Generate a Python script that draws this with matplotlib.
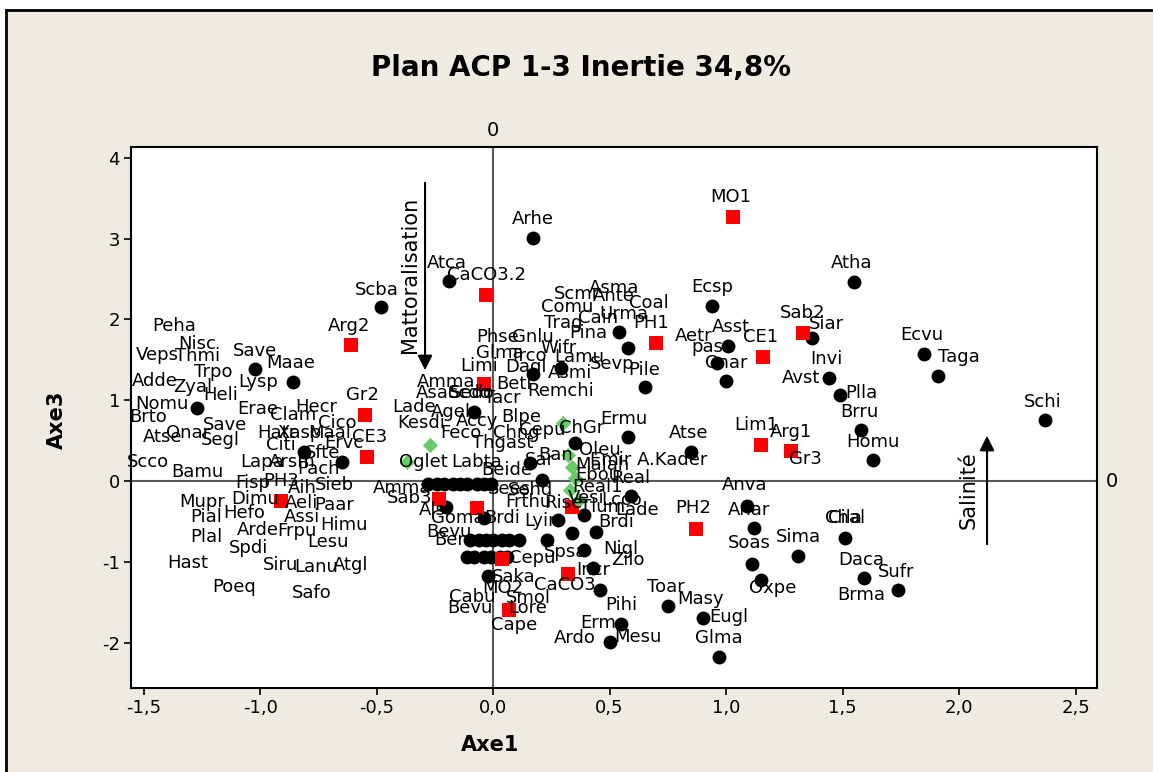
import matplotlib
matplotlib.use('Agg')
import matplotlib.pyplot as plt
from matplotlib.patches import Rectangle
from matplotlib.transforms import blended_transform_factory

# ---------------- data ----------------
title = "Plan ACP 1-3 Inertie 34,8%"
xticks = [-1.5, -1.0, -0.5, 0.0, 0.5, 1.0, 1.5, 2.0, 2.5]
xtick_labels = ["-1,5", "-1,0", "-0,5", "0,0", "0,5", "1,0", "1,5", "2,0", "2,5"]
yticks = [-2, -1, 0, 1, 2, 3, 4]
ytick_labels = ["-2", "-1", "0", "1", "2", "3", "4"]

# species points (black circles)
dot_x = [0.17, -0.19, -0.48, 1.55, 0.94, 1.01, 0.96, 1.00, 1.37, 1.44, 1.49, 1.85, 1.91, 2.37,
         1.58, 1.63, 0.85, 0.58, 0.35, 0.16, 0.21, 0.59, 0.54, 0.58, 0.65, 0.17, 0.29, -0.08,
         -0.20, -0.04, 0.28, -0.02, 0.23, 0.39, 0.43, 0.46, 0.55, 0.50, 0.75, 0.90, 0.97, 0.39,
         0.34, 0.44, 1.09, 1.12, 1.11, 1.15, 1.31, 1.51, 1.59, 1.74, -1.02, -0.86, -1.27, -0.81,
         -0.65,
         -0.28, -0.24, -0.21, -0.17, -0.14, -0.11, -0.07, -0.04, -0.01,
         -0.10, -0.06, -0.03, 0.00, 0.04, 0.07, 0.11,
         -0.11, -0.08, -0.04, -0.01, 0.03, 0.06]
dot_y = [3.01, 2.48, 2.15, 2.46, 2.17, 1.67, 1.46, 1.24, 1.77, 1.27, 1.06, 1.57, 1.30, 0.75,
         0.63, 0.26, 0.36, 0.54, 0.47, 0.22, 0.01, -0.19, 1.84, 1.65, 1.16, 1.32, 1.40, 0.85,
         -0.32, -0.46, -0.48, -1.18, -0.73, -0.85, -1.08, -1.35, -1.77, -1.99, -1.55, -1.70, -2.18,
         -0.42, -0.64, -0.63, -0.31, -0.58, -1.03, -1.23, -0.93, -0.71, -1.20, -1.35, 1.39, 1.23,
         0.90, 0.36, 0.24,
         -0.04, -0.04, -0.04, -0.04, -0.04, -0.04, -0.04, -0.04, -0.04,
         -0.73, -0.73, -0.73, -0.73, -0.73, -0.73, -0.73,
         -0.94, -0.94, -0.94, -0.94, -0.94, -0.94]

# environmental variables (red squares)
sq_x = [1.03, -0.03, -0.61, 0.70, 1.33, 1.16, -0.55, -0.54, -0.04, 1.15, 1.28, 0.87, -0.91,
        -0.23, -0.07, 0.04, 0.32, 0.07, 0.34]
sq_y = [3.27, 2.30, 1.68, 1.71, 1.83, 1.53, 0.82, 0.30, 1.20, 0.45, 0.37, -0.59, -0.25,
        -0.22, -0.33, -0.97, -1.15, -1.60, -0.32]

# stations (green diamonds)
dia_x = [-0.27, -0.37, 0.30, 0.32, 0.34, 0.35, 0.33, 0.37]
dia_y = [0.45, 0.24, 0.72, 0.32, 0.17, 0.04, -0.11, -0.24]

# labels, left part
left_text = ["Scba", "Arg2", "Peha", "Nisc", "Veps", "Thmi", "Save", "Maae", "Trpo", "Adde",
             "Lysp", "Zyal", "Heli", "Nomu", "Gr2", "Brto", "Erae", "Hecr", "Clam", "Cico",
             "Onar", "Save", "Segl", "Atse", "Hatr", "Xasp", "Maal", "CE3", "Citi", "Ervc",
             "Sfte", "Scco", "Lapa", "Arsm", "Pach", "Bamu", "Fisp", "PH3", "Aih", "Sieb",
             "Mupr", "Dimu", "Aeli", "Paar", "Pial", "Hefo", "Assi", "Himu", "Arde", "Frpu",
             "Plal", "Lesu", "Spdi", "Hast", "Siru", "Lanu", "Atgl", "Poeq", "Safo"]
left_x = [-0.50, -0.62, -1.37, -1.27, -1.44, -1.27, -1.02, -0.87, -1.20, -1.45,
          -1.01, -1.29, -1.17, -1.42, -0.56, -1.48, -1.01, -0.76, -0.86, -0.67,
          -1.31, -1.15, -1.17, -1.42, -0.93, -0.83, -0.70, -0.53, -0.91, -0.64,
          -0.73, -1.48, -0.99, -0.86, -0.75, -1.27, -1.03, -0.91, -0.82, -0.68,
          -1.25, -1.02, -0.82, -0.68, -1.23, -1.07, -0.82, -0.64, -1.01, -0.84,
          -1.23, -0.71, -1.05, -1.31, -0.91, -0.76, -0.61, -1.11, -0.78]
left_y = [2.36, 1.92, 1.92, 1.70, 1.56, 1.55, 1.61, 1.46, 1.35, 1.24,
          1.23, 1.16, 1.06, 0.95, 1.06, 0.79, 0.89, 0.92, 0.82, 0.72,
          0.59, 0.69, 0.51, 0.54, 0.59, 0.59, 0.59, 0.54, 0.45, 0.47,
          0.35, 0.24, 0.24, 0.24, 0.15, 0.11, -0.02, 0.00, -0.09, -0.05,
          -0.26, -0.22, -0.27, -0.30, -0.45, -0.40, -0.45, -0.54, -0.61, -0.62,
          -0.69, -0.75, -0.83, -1.01, -1.04, -1.06, -1.04, -1.31, -1.39]

# labels, central part
mid_text = ["Atca", "CaCO3.2", "Arhe", "Phse", "Gnlu", "Glma", "Trco", "Limi", "Dagl", "Beti",
            "Amma", "Asac", "Scdo", "Sedo", "Tacr", "Lade", "Agel", "Accy", "Blpe", "Kesdi",
            "Feco", "Chng", "Cepu", "Thgast", "Oglet", "Labta", "Beide", "Sar", "Amma", "Sab3",
            "Alsi", "Goma", "Brdi", "Lyin", "Sees", "Sehd", "Frthu", "Bevu", "Bema", "Cepu",
            "Saka", "MO2", "CaCO3", "Cabu", "Smol", "Bevu", "Lore", "Cape", "Remchi", "Asmi",
            "Wifr", "Lamu", "Sevp", "Pile", "Pina", "Trag", "Cain", "Urma", "Comu", "Coal",
            "Scmr", "Ante", "Asma", "PH1", "Ermu", "ChGr", "Oleu", "Ban", "Emir A.Kader", "Malah",
            "Ebou", "Real", "Real1", "Vesi", "Lcco", "Rise", "Tlum", "Lade", "Brdi", "Spsa",
            "Nigl", "Zilo", "Incr", "Pihi", "Toar", "Erm", "Ardo", "Mesu"]
mid_x = [-0.20, -0.03, 0.17, 0.02, 0.17, 0.03, 0.15, -0.06, 0.14, 0.09,
         -0.20, -0.24, -0.10, -0.09, 0.04, -0.34, -0.18, -0.07, 0.12, -0.31,
         -0.14, 0.10, 0.21, 0.04, -0.30, -0.07, 0.06, 0.20, -0.39, -0.36,
         -0.25, -0.15, 0.04, 0.21, 0.07, 0.16, 0.15, -0.19, -0.14, 0.17,
         0.09, 0.04, 0.31, -0.09, 0.15, -0.10, 0.15, 0.09, 0.29, 0.33,
         0.28, 0.37, 0.51, 0.65, 0.41, 0.30, 0.45, 0.56, 0.32, 0.67,
         0.36, 0.52, 0.52, 0.68, 0.56, 0.38, 0.46, 0.27, 0.67, 0.47,
         0.45, 0.59, 0.45, 0.40, 0.55, 0.30, 0.47, 0.62, 0.53, 0.31,
         0.55, 0.58, 0.43, 0.55, 0.74, 0.45, 0.35, 0.62]
mid_y = [2.70, 2.55, 3.24, 1.78, 1.78, 1.58, 1.55, 1.42, 1.41, 1.20,
         1.23, 1.09, 1.09, 1.09, 1.03, 0.92, 0.85, 0.74, 0.79, 0.72,
         0.59, 0.59, 0.63, 0.47, 0.24, 0.24, 0.14, 0.26, -0.09, -0.21,
         -0.36, -0.46, -0.46, -0.50, -0.10, -0.11, -0.26, -0.63, -0.73, -0.95,
         -1.19, -1.32, -1.29, -1.44, -1.45, -1.57, -1.57, -1.78, 1.12, 1.34,
         1.65, 1.53, 1.45, 1.37, 1.83, 1.96, 2.02, 2.07, 2.15, 2.20,
         2.31, 2.29, 2.39, 1.96, 0.77, 0.66, 0.38, 0.32, 0.26, 0.20,
         0.07, 0.04, -0.07, -0.21, -0.24, -0.27, -0.32, -0.36, -0.51, -0.88,
         -0.84, -0.98, -1.10, -1.53, -1.31, -1.76, -1.94, -1.93]

# labels, right part
right_text = ["MO1", "Atha", "Ecsp", "Sab2", "Siar", "Asst", "Aetr", "CE1", "pas", "Cnar",
              "Invi", "Avst", "Plla", "Ecvu", "Taga", "Schi", "Brru", "Homu", "Atse", "Lim1",
              "Arg1", "Gr3", "Anva", "Anar", "PH2", "Soas", "Sima", "Chal", "Cila", "Daca",
              "Sufr", "Oxpe", "Brma", "Masy", "Eugl", "Glma"]
right_x = [1.02, 1.54, 0.94, 1.33, 1.43, 1.02, 0.86, 1.15, 0.92, 1.00,
           1.43, 1.32, 1.58, 1.84, 2.00, 2.36, 1.57, 1.63, 0.84, 1.13,
           1.28, 1.34, 1.08, 1.10, 0.86, 1.10, 1.31, 1.51, 1.51, 1.58,
           1.73, 1.20, 1.58, 0.89, 1.01, 0.97]
right_y = [3.51, 2.70, 2.40, 2.08, 1.94, 1.91, 1.79, 1.78, 1.66, 1.46,
           1.51, 1.27, 1.09, 1.81, 1.53, 0.98, 0.85, 0.48, 0.59, 0.69,
           0.61, 0.27, -0.05, -0.36, -0.33, -0.77, -0.69, -0.46, -0.46, -0.98,
           -1.13, -1.32, -1.41, -1.46, -1.68, -1.94]

# ---------------- figure ----------------
W, H = 1153, 772
fig = plt.figure(figsize=(W / 100, H / 100), dpi=100, facecolor='white')

# beige Minitab frame
frame = Rectangle((6 / W, -0.1), 1.2, 1.1 - 10 / H, transform=fig.transFigure,
                  facecolor='#EFEBE1', edgecolor='black', linewidth=2, zorder=0)
fig.add_artist(frame)

ax = fig.add_axes([131 / W, 1 - 688 / H, (1097 - 131) / W, (688 - 147) / H])
ax.set_facecolor('white')
ax.set_xlim(-1.554, 2.592)
ax.set_ylim(-2.562, 4.134)

ax.axhline(0, color='#5a5a5a', lw=1.5, zorder=1)
ax.axvline(0, color='#5a5a5a', lw=1.5, zorder=1)

ax.scatter(dot_x, dot_y, s=100, marker='o', color='black', zorder=3, linewidths=0)
ax.scatter(sq_x, sq_y, s=100, marker='s', color='#FF0000', zorder=3, linewidths=0)
ax.scatter(dia_x, dia_y, s=60, marker='D', color='#66CC66', zorder=3, linewidths=0)

for texts, xs, ys in [(left_text, left_x, left_y), (mid_text, mid_x, mid_y),
                      (right_text, right_x, right_y)]:
    for t, x, y in zip(texts, xs, ys):
        ax.text(x, y, t, ha='center', va='center', fontsize=13, color='black', zorder=4)

# arrows
ax.annotate('', xy=(-0.292, 1.337), xytext=(-0.292, 3.725),
            arrowprops=dict(arrowstyle='-|>', color='black', lw=1.5, mutation_scale=22), zorder=5)
ax.text(-0.356, 2.55, 'Mattoralisation', rotation=90, ha='center', va='center', fontsize=15, zorder=5)
ax.annotate('', xy=(2.120, 0.594), xytext=(2.120, -0.817),
            arrowprops=dict(arrowstyle='-|>', color='black', lw=1.5, mutation_scale=22), zorder=5)
ax.text(2.043, -0.11, 'Salinité', rotation=90, ha='center', va='center', fontsize=15, zorder=5)

# reference line labels
ax.text(0, 1.031, '0', transform=blended_transform_factory(ax.transData, ax.transAxes),
        ha='center', va='center', fontsize=14)
ax.text(1.0155, 0, '0', transform=blended_transform_factory(ax.transAxes, ax.transData),
        ha='center', va='center', fontsize=14)

ax.set_xticks(xticks)
ax.set_xticklabels(xtick_labels, fontsize=13)
ax.set_yticks(yticks)
ax.set_yticklabels(ytick_labels, fontsize=13)
ax.tick_params(direction='out', length=5, width=1.2, pad=3)
for sp in ax.spines.values():
    sp.set_linewidth(1.5)
    sp.set_color('black')

fig.text(581 / W, 1 - 68 / H, title, ha='center', va='center', fontsize=20, fontweight='bold')
fig.text(490 / W, 1 - 745 / H, 'Axe1', ha='center', va='center', fontsize=15, fontweight='bold')
fig.text(57 / W, 1 - 420 / H, 'Axe3', ha='center', va='center', fontsize=15, fontweight='bold',
         rotation=90)

fig.savefig('out.png', dpi=100, facecolor='white')
